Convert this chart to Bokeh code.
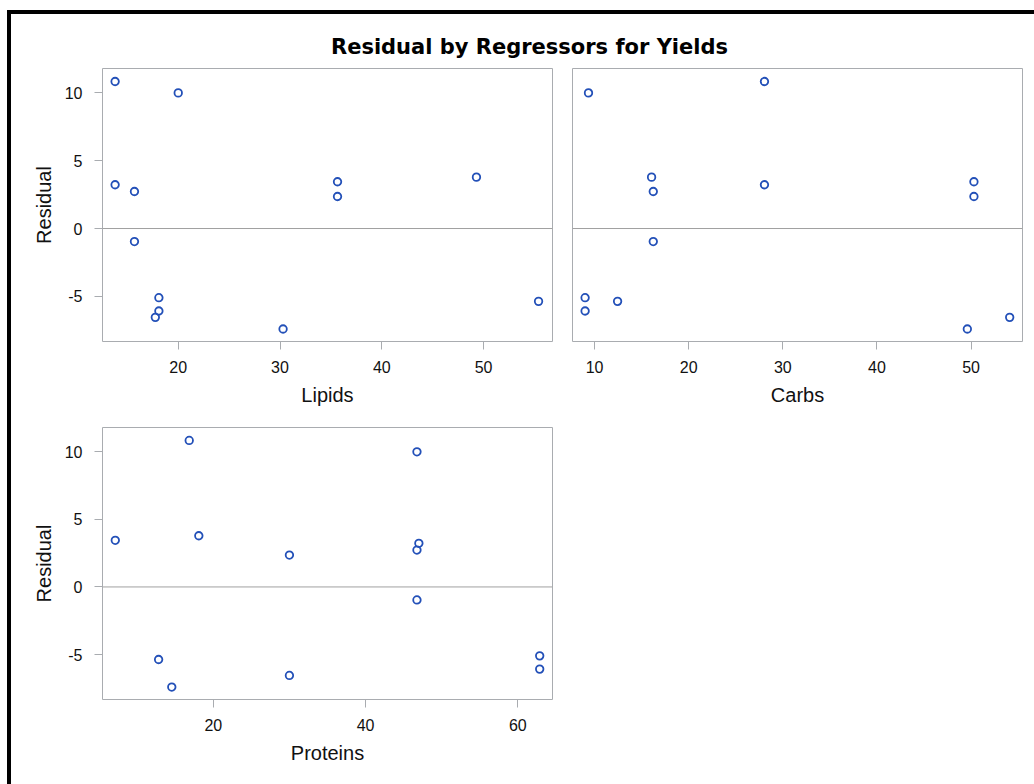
from bokeh.plotting import figure
from bokeh.layouts import column, row
from bokeh.models import Div, Range1d, Span, Label, FixedTicker, Spacer, ColumnDataSource
from bokeh.embed import file_html
from bokeh.resources import INLINE

# ---- data ----
residual = [10.84, 10.0, 3.23, 2.73, -0.96, -5.10, -6.08, -6.55, -7.41, 3.45, 2.36, 3.79, -5.37]
lipids = [13.8, 20.0, 13.8, 15.7, 15.7, 18.1, 18.1, 17.75, 30.3, 35.65, 35.65, 49.3, 55.4]
carbs = [28.05, 9.36, 28.05, 16.24, 16.24, 9.0, 9.0, 54.1, 49.6, 50.3, 50.3, 16.06, 12.45]
proteins = [16.84, 46.75, 47.0, 46.75, 46.75, 62.87, 62.87, 30.0, 14.55, 7.13, 30.0, 18.1, 12.82]

y_ticks = [-5, 0, 5, 10]
y_tick_labels = ["-5", "0", "5", "10"]
lipids_ticks = [20, 30, 40, 50]
carbs_ticks = [10, 20, 30, 40, 50]
proteins_ticks = [20, 40, 60]

title_text = "Residual by Regressors for Yields"

src = ColumnDataSource(dict(residual=residual, Lipids=lipids, Carbs=carbs, Proteins=proteins))

FONT = "Liberation Sans"
MARKER = "#2350B8"
FRAME = "#A9ACB0"
REF = "#A0A0A0"


def panel(xcol, xr, xticks, show_y, ml, mr):
    p = figure(frame_width=450, frame_height=273 if xcol != "Proteins" else 272,
               x_range=Range1d(*xr), y_range=Range1d(-8.33, 11.8),
               min_border_left=ml, min_border_right=mr, min_border_top=2,
               min_border_bottom=84 if xcol != "Proteins" else 85,
               output_backend="svg", toolbar_location=None,
               y_axis_location="left" if show_y else None)
    p.grid.visible = False
    p.outline_line_color = FRAME
    p.outline_line_width = 1
    p.background_fill_color = "white"
    p.border_fill_color = "white"
    p.add_layout(Span(location=0, dimension="width", line_color=REF, line_width=1))
    p.scatter(xcol, "residual", source=src, size=7.5, marker="circle",
              fill_color=None, line_color=MARKER, line_width=1.8)
    axes = [p.xaxis[0]] + ([p.yaxis[0]] if show_y else [])
    for ax in axes:
        ax.axis_line_color = None
        ax.major_tick_in = 0
        ax.major_tick_out = 8
        ax.major_tick_line_color = FRAME
        ax.minor_tick_line_color = None
        ax.major_label_text_font = FONT
        ax.major_label_text_font_size = "16px"
        ax.major_label_text_color = "#111111"
        ax.axis_label_text_font = FONT
        ax.axis_label_text_font_size = "20px"
        ax.axis_label_text_font_style = "normal"
        ax.axis_label_text_color = "#111111"
    p.xaxis[0].ticker = FixedTicker(ticks=xticks)
    p.xaxis[0].axis_label = xcol
    p.xaxis[0].major_label_standoff = 11
    p.xaxis[0].axis_label_standoff = 8
    if show_y:
        p.yaxis[0].ticker = FixedTicker(ticks=y_ticks)
        p.yaxis[0].major_label_overrides = {t: l for t, l in zip(y_ticks, y_tick_labels)}
        p.yaxis[0].axis_label = "Residual"
        p.yaxis[0].major_label_standoff = 12
        p.yaxis[0].axis_label_standoff = 7
    return p


p1 = panel("Lipids", (12.56, 56.77), lipids_ticks, True, 91, 10)
p2 = panel("Carbs", (7.66, 55.46), carbs_ticks, False, 10, 12)
p3 = panel("Proteins", (5.45, 64.55), proteins_ticks, True, 91, 10)

tf = figure(width=1023, height=52, x_range=Range1d(0, 1023), y_range=Range1d(0, 52),
            min_border=0, output_backend="svg", toolbar_location=None)
tf.axis.visible = False
tf.grid.visible = False
tf.outline_line_color = None
tf.add_layout(Label(x=518, y=20, text=title_text, text_align="center",
                    text_baseline="middle", text_font="DejaVu Sans",
                    text_font_style="bold", text_font_size="21px", text_color="#000000"))

black = {"background-color": "black"}
content = column(tf, row(p1, p2), row(p3, Spacer(width=472, height=359, margin=0)))
layout = column(
    Spacer(width=1034, height=10, margin=0),
    row(Spacer(width=7, height=4, margin=0), Div(width=1027, height=4, styles=black, margin=0)),
    row(Spacer(width=7, height=770, margin=0), Div(width=4, height=770, styles=black, margin=0), content),
)

open("out.html", "w").write(file_html(layout, INLINE))
